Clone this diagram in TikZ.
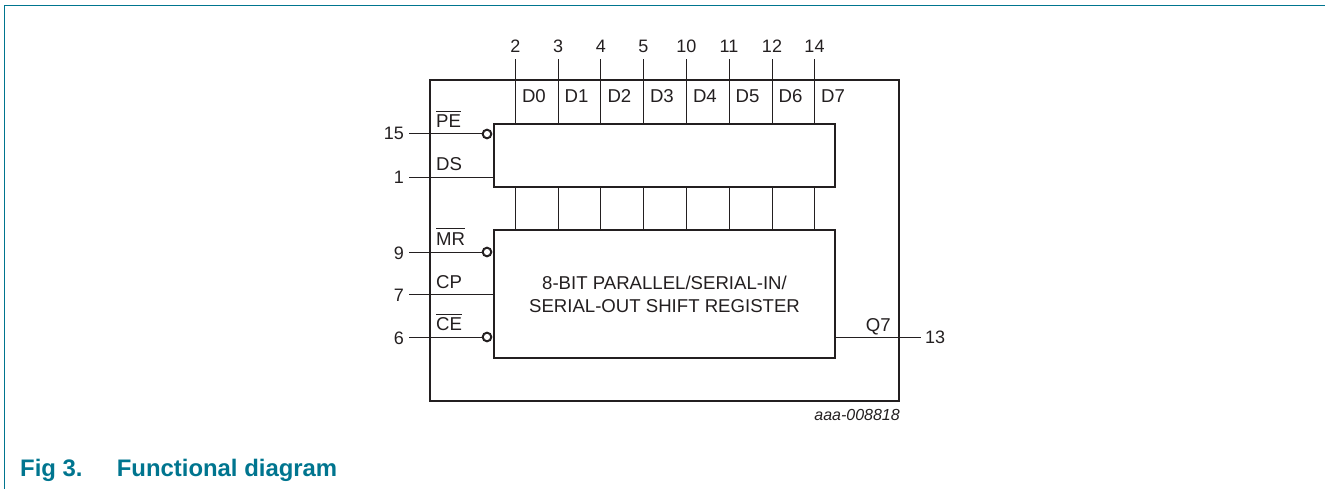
\documentclass[tikz,border=0pt]{standalone}
\usepackage{fontspec}
\setmainfont{Liberation Sans}
\definecolor{ink}{HTML}{231F20}
\definecolor{teal}{HTML}{00758F}
\newcommand{\barred}[1]{\vbox{\hrule height 1pt \kern 3pt \hbox{#1}}}
\tikzset{
  x=1pt,y=-1pt,
  box/.style={draw=ink,line width=2.4pt,fill=none,inner sep=0pt,outer sep=0pt,anchor=north west},
  wire/.style={draw=ink,line width=1pt},
  txt/.style={text=ink,font=\fontsize{18.6}{23.4}\selectfont,inner sep=0pt},
  numtxt/.style={text=ink,font=\fontsize{18}{22}\selectfont,inner sep=0pt},
  pin/.style={numtxt,anchor=base east},
  sig/.style={txt,anchor=base west},
  topnum/.style={numtxt,anchor=base},
  bubble/.style={circle,draw=ink,line width=2pt,fill=white,minimum size=8.6pt,inner sep=0pt,outer sep=0pt},
  captxt/.style={anchor=base west,inner sep=0pt,text=teal,font=\fontsize{23.9}{28}\selectfont\bfseries}
}
\begin{document}
\begin{tikzpicture}
\useasboundingbox (0,0) rectangle (1325,489);
% page frame
\coordinate (fa) at (4.7,489);
\coordinate (fb) at (4.7,5.4);
\coordinate (fc) at (1325,5.4);
\draw[teal,line width=1pt] (fa) -- (fb) -- (fc);
% boxes
\node[box,minimum width=469pt,minimum height=321pt] (outer) at (430,80) {};
\node[box,minimum width=341pt,minimum height=63pt] (regA) at (494,124) {};
\node[box,minimum width=341pt,minimum height=128pt] (regB) at (494,230) {};
\node[txt,align=center] (lbl) at (664.5,294.3) {8-BIT PARALLEL/SERIAL-IN/\\SERIAL-OUT SHIFT REGISTER};
% data lines
\foreach \n/\x/\pn/\d in {0/515.3/2/D0,1/558/3/D1,2/600.8/4/D2,3/643.3/5/D3,4/686.3/10/D4,5/729/11/D5,6/772/12/D6,7/814.5/14/D7}{
  \node[topnum] (top\n) at (\x,52.7) {\pn};
  \coordinate (t\n) at (\x,59.2);
  \draw[wire] (t\n) -- (t\n |- regA.north);
  \draw[wire] (t\n |- regA.south) -- (t\n |- regB.north);
  \node[sig] (d\n) at (\x+6.5,102.7) {\d};
}
% left pins
\node[pin] (p15) at (404,140) {15};
\node[pin] (p1) at (404,184) {1};
\node[pin] (p9) at (404,259) {9};
\node[pin] (p7) at (404,301.5) {7};
\node[pin] (p6) at (404,344) {6};
\coordinate (c15) at (409,134);
\coordinate (c1) at (409,177.5);
\coordinate (c9) at (409,252);
\coordinate (c7) at (409,294.5);
\coordinate (c6) at (409,337);
\node[bubble] (b15) at (487,134) {};
\node[bubble] (b9) at (487,252) {};
\node[bubble] (b6) at (487,337) {};
\draw[wire] (c15) -- (b15.west);
\draw[wire] (c1) -- (c1 -| regA.west);
\draw[wire] (c9) -- (b9.west);
\draw[wire] (c7) -- (c7 -| regB.west);
\draw[wire] (c6) -- (b6.west);
% signal names
\node[sig] (sPE) at (436,128) {\barred{PE}};
\node[sig] (sDS) at (436,170.7) {DS};
\node[sig] (sMR) at (436,245) {\barred{MR}};
\node[sig] (sCP) at (436,288) {CP};
\node[sig] (sCE) at (436,330.7) {\barred{CE}};
% output
\coordinate (c13) at (921,337);
\draw[wire] (c13 -| regB.east) -- (c13);
\node[txt,anchor=base east] (sQ) at (891,331) {Q7};
\node[numtxt,anchor=base west] (p13) at (925,343.3) {13};
% id and caption
\node[txt,anchor=base east,font=\fontsize{16}{19}\selectfont\itshape] (id) at (900,420) {aaa-008818};
\node[captxt] (fig) at (20,476) {Fig 3.};
\node[captxt] (cap) at (116.6,476) {Functional diagram};
\end{tikzpicture}
\end{document}
